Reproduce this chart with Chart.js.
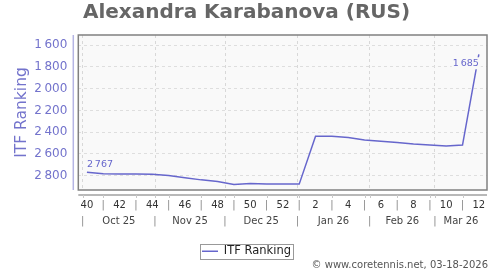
<!DOCTYPE html>
<html>
<head>
<meta charset="utf-8">
<script src="https://cdn.jsdelivr.net/npm/chart.js@4/dist/chart.umd.min.js"></script>
<style>
  html, body { margin: 0; padding: 0; background: #fff; }
</style>
</head>
<body>
<canvas id="rankChart" width="500" height="270"></canvas>
<script>
// weekly ITF ranking, week 40 of 2025 to week 12 of 2026
const weekLabels = ['40','41','42','43','44','45','46','47','48','49','50','51','52',
                    '1','2','3','4','5','6','7','8','9','10','11','12'];
const ranking = [2767, 2782, 2785, 2785, 2786, 2797, 2818, 2838, 2852, 2880, 2872, 2876, 2877,
                 2877, 2438, 2438, 2450, 2472, 2484, 2495, 2509, 2518, 2527, 2518, 1685];
const yTicks = [1600, 1800, 2000, 2200, 2400, 2600, 2800];
const monthLabels = ['Oct 25', 'Nov 25', 'Dec 25', 'Jan 26', 'Feb 26', 'Mar 26'];
const monthStarts = [0, 31, 61, 92, 123, 151]; // days after 1 Oct 2025

const week40Day = 1.8;   // where week 40 sits, in days after 1 Oct
const xMin = -1.9, xMax = 173.3;
const yMin = 1508, yMax = 2931;

const lineColor = '#6666cc';
const blueText = '#7373cc';

function fmt(v) {
  return String(v).replace(/\B(?=(\d{3})+(?!\d))/g, '\u2009');
}

const points = ranking.map((v, i) => ({ x: week40Day + 7 * i, y: v }));

let monthTicks = [];
monthStarts.forEach((d, i) => {
  let end = i < monthStarts.length - 1 ? monthStarts[i + 1] : xMax;
  monthTicks.push({ value: d, label: '|', edge: true });
  monthTicks.push({ value: (d + end) / 2, label: monthLabels[i], edge: false });
});

const decor = {
  id: 'decor',
  beforeDraw(chart) {
    let ctx = chart.ctx, a = chart.chartArea;
    ctx.save();
    ctx.fillStyle = '#f9f9f9';
    ctx.fillRect(a.left, a.top, a.right - a.left, a.bottom - a.top);
    ctx.restore();
  },
  afterDatasetsDraw(chart) {
    let ctx = chart.ctx;
    let meta = chart.getDatasetMeta(0);
    let first = meta.data[0], last = meta.data[meta.data.length - 1];
    ctx.save();
    ctx.font = '9.5px "DejaVu Sans"';
    ctx.textBaseline = 'middle';
    ctx.fillStyle = lineColor;
    ctx.textAlign = 'left';
    ctx.fillText(fmt(ranking[0]), first.x, first.y - 8);
    let txt = fmt(ranking[ranking.length - 1]);
    let w = ctx.measureText(txt).width;
    ctx.fillStyle = '#f9f9f9';
    ctx.fillRect(last.x - w - 1, last.y + 3, w + 3, 12);
    ctx.fillStyle = lineColor;
    ctx.textAlign = 'right';
    ctx.fillText(txt, last.x, last.y + 9);
    ctx.restore();
  },
  afterDraw(chart) {
    let ctx = chart.ctx, a = chart.chartArea;
    let xs = chart.scales.x;
    ctx.save();
    // plot frame
    ctx.strokeStyle = '#808080';
    ctx.lineWidth = 1.5;
    ctx.strokeRect(a.left, a.top, a.right - a.left, a.bottom - a.top);
    // offset axis lines
    ctx.lineWidth = 1.5;
    ctx.strokeStyle = '#b4b4e4';
    ctx.beginPath();
    ctx.moveTo(a.left - 5, a.top);
    ctx.lineTo(a.left - 5, a.bottom);
    ctx.stroke();
    ctx.strokeStyle = '#a0a0a0';
    ctx.beginPath();
    ctx.moveTo(a.left, a.bottom + 5);
    ctx.lineTo(a.right, a.bottom + 5);
    ctx.stroke();
    // small marks under the x axis line
    ctx.lineWidth = 1;
    ctx.strokeStyle = '#c8c8c8';
    let marks = monthStarts.slice();
    points.forEach((p, i) => { if (i % 2) marks.push(p.x); });
    marks.forEach(d => {
      let px = Math.round(xs.getPixelForValue(d)) + 0.5;
      ctx.beginPath();
      ctx.moveTo(px, a.bottom + 5);
      ctx.lineTo(px, a.bottom + 8);
      ctx.stroke();
    });
    // legend frame
    let lg = chart.legend;
    if (lg && lg.legendHitBoxes.length) {
      let h = lg.legendHitBoxes[0];
      ctx.strokeStyle = '#999';
      ctx.lineWidth = 1;
      ctx.strokeRect(Math.round(h.left - 2) + 0.5, Math.round(h.top - 1.5) + 0.5,
                     Math.round(h.width + 4), Math.round(h.height + 3));
    }
    // credit
    ctx.font = '10px "DejaVu Sans"';
    ctx.fillStyle = '#555';
    ctx.textAlign = 'right';
    ctx.textBaseline = 'middle';
    ctx.fillText('\u00a9 www.coretennis.net, 03-18-2026', 488, 265);
    ctx.restore();
  }
};

new Chart(document.getElementById('rankChart'), {
  type: 'line',
  data: {
    datasets: [{
      label: 'ITF Ranking',
      data: points,
      borderColor: lineColor,
      backgroundColor: lineColor,
      borderWidth: 1.5,
      pointRadius: 0,
      tension: 0,
      fill: false
    }]
  },
  options: {
    responsive: false,
    animation: false,
    layout: { padding: { left: 6, right: 13, top: 0, bottom: 3 } },
    plugins: {
      title: {
        display: true,
        text: 'Alexandra Karabanova (RUS)',
        color: '#666',
        font: { family: 'DejaVu Sans', size: 20, weight: 'bold' },
        padding: { top: 1, bottom: 10 }
      },
      legend: {
        display: true,
        position: 'bottom',
        labels: {
          color: '#222',
          font: { family: 'DejaVu Sans', size: 11.5 },
          usePointStyle: true,
          pointStyle: 'line',
          pointStyleWidth: 16,
          padding: 5.5
        }
      },
      tooltip: { enabled: false }
    },
    scales: {
      x: {
        type: 'linear',
        position: 'bottom',
        min: xMin, max: xMax,
        afterBuildTicks: s => { s.ticks = points.map(p => ({ value: p.x })); },
        afterFit: s => { s.height = 22; },
        grid: { display: false, drawTicks: false },
        border: { display: false },
        ticks: {
          autoSkip: false, maxRotation: 0, padding: 9,
          font: { family: 'DejaVu Sans', size: 10 },
          color: c => (c.index % 2 ? '#888' : '#333'),
          callback: (v, i) => (i % 2 ? '|' : weekLabels[i])
        }
      },
      months: {
        type: 'linear',
        position: 'bottom',
        min: xMin, max: xMax,
        afterBuildTicks: s => { s.ticks = monthTicks.map(t => ({ value: t.value })); },
        afterFit: s => { s.height = 28; },
        grid: {
          drawTicks: false,
          color: c => (monthTicks[c.index] && monthTicks[c.index].edge ? '#d8d8d8' : 'rgba(0,0,0,0)')
        },
        border: { display: false, dash: [3, 3] },
        ticks: {
          autoSkip: false, maxRotation: 0, padding: 3,
          font: { family: 'DejaVu Sans', size: 10 },
          color: c => (monthTicks[c.index] && monthTicks[c.index].edge ? '#888' : '#444'),
          callback: (v, i) => monthTicks[i].label
        }
      },
      y: {
        type: 'linear',
        reverse: true,
        min: yMin, max: yMax,
        afterBuildTicks: s => { s.ticks = yTicks.map(v => ({ value: v })); },
        afterFit: s => { s.width = 72.3; },
        grid: { color: '#dedede', drawTicks: false },
        border: { display: false, dash: [3, 3] },
        ticks: {
          padding: 11,
          color: blueText,
          font: { family: 'DejaVu Sans', size: 12 },
          callback: v => fmt(v)
        },
        title: {
          display: true,
          text: 'ITF Ranking',
          color: blueText,
          font: { family: 'DejaVu Sans', size: 15.5 },
          padding: { top: 7, bottom: 0 }
        }
      }
    }
  },
  plugins: [decor]
});
</script>
</body>
</html>
